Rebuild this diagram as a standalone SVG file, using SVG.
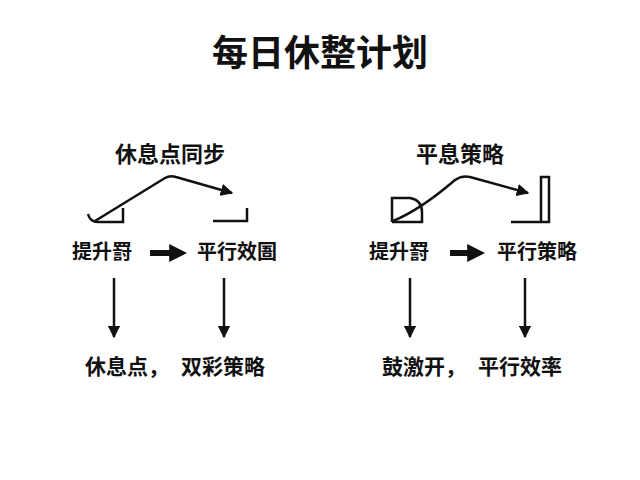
<svg xmlns="http://www.w3.org/2000/svg" width="640" height="480" viewBox="0 0 640 480">
<style>
text{font-family:"Noto Sans CJK SC","Noto Sans",sans-serif;fill:#111;text-anchor:middle}
.t{font-size:36px;font-weight:700}
.s{font-size:22px;font-weight:700}
.l{font-size:20px;font-weight:700}
.ln{fill:none;stroke:#111;stroke-width:2.5}
.ar{fill:none;stroke:#111;stroke-width:2.5;marker-end:url(#ah)}
.bar{fill:none;stroke:#111;stroke-width:6;marker-end:url(#bh)}
</style>
<defs>
<marker id="ah" viewBox="0 0 10 10" refX="9" refY="5" markerWidth="5" markerHeight="5" orient="auto"><path d="M0,0L10,5L0,10z" fill="#111"/></marker>
<marker id="bh" viewBox="0 0 10 10" refX="6" refY="5" markerWidth="3" markerHeight="3" orient="auto"><path d="M0,0L10,5L0,10z" fill="#111"/></marker>
</defs>
<rect width="640" height="480" fill="#fff"/>
<text class="t" x="320" y="66">每日休整计划</text>
<g id="left">
<text class="s" x="170" y="162">休息点同步</text>
<path class="ln" d="M88,214Q90,222 98,222H123V208"/>
<path class="ln" d="M213,221H247V208"/>
<text class="l" x="102" y="259">提升罸</text>
<text class="l" x="237" y="259">平行效圄</text>
<text class="l" x="175" y="374" style="font-size:21px">休息点，<tspan dx="12">双彩策略</tspan></text>
</g>
<g id="right">
<text class="s" x="460" y="162">平息策略</text>
<path class="ln" d="M392,222V198H410Q422,200 422,212V222H392"/>
<path class="ln" d="M511,222H549V177H541V222"/>
<text class="l" x="399" y="259">提升罸</text>
<text class="l" x="537" y="259">平行策略</text>
<text class="l" x="472" y="374" style="font-size:21px">鼓激开，<tspan dx="12">平行效率</tspan></text>
</g>
<g id="connectors">
<path class="ar" d="M95,221L165,178Q170,175 176,177L232,193"/>
<path class="ar" d="M393,221Q420,210 455,180Q462,175 470,177L528,193"/>
<path class="bar" d="M150,253H180"/>
<path class="bar" d="M450,253H478"/>
<path class="ar" d="M114,278V337"/>
<path class="ar" d="M224,278V337"/>
<path class="ar" d="M410,278V337"/>
<path class="ar" d="M525,278V337"/>
</g>
</svg>
